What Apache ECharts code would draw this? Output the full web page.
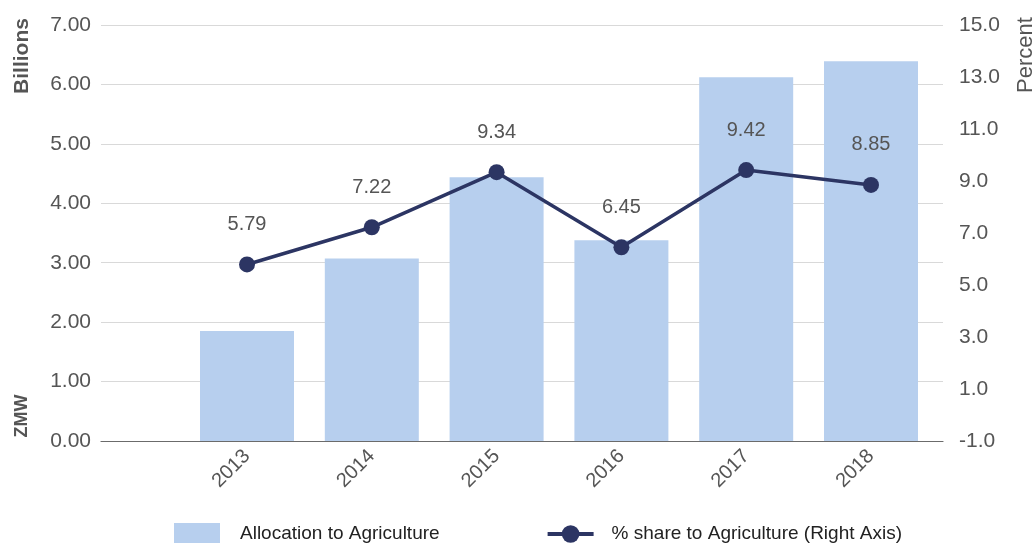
<!DOCTYPE html>
<html><head><meta charset="utf-8">
<script src="https://cdn.jsdelivr.net/npm/echarts@6/dist/echarts.min.js"></script>
<style>html,body{margin:0;padding:0;background:#fff}#c{width:1035px;height:543px}</style>
</head><body><div id="c"></div>
<script>
const years = [2013, 2014, 2015, 2016, 2017, 2018];
const allocation = [1.85, 3.07, 4.44, 3.38, 6.12, 6.39];
const share = [5.79, 7.22, 9.34, 6.45, 9.42, 8.85];
const leftTicks = [0, 1, 2, 3, 4, 5, 6, 7];
const rightTicks = [-1, 1, 3, 5, 7, 9, 11, 13, 15];

const font = 'Liberation Sans, Arial, sans-serif';
const chart = echarts.init(document.getElementById('c'), null, {renderer: 'canvas'});
chart.setOption({
  animation: false,
  grid: {left: 101, right: 92, top: 25, bottom: 102, containLabel: false},
  xAxis: {
    type: 'value', min: 2011.83, max: 2018.577,
    splitLine: {show: false},
    axisTick: {show: false},
    axisLine: {show: true, lineStyle: {color: '#6b6b6b', width: 1.2}},
    axisLabel: {customValues: years, rotate: 45, margin: 12, color: '#555', fontSize: 20, fontFamily: font,
      formatter: v => String(Math.round(v))}
  },
  yAxis: [
    {type: 'value', min: 0, max: 7, interval: 1,
     axisLine: {show: false}, axisTick: {show: false},
     splitLine: {lineStyle: {color: '#d9d9d9', width: 1}},
     axisLabel: {customValues: leftTicks, formatter: v => v.toFixed(2), color: '#555', fontSize: 21, fontFamily: font, margin: 10}},
    {type: 'value', min: -1, max: 15, interval: 2,
     axisLine: {show: false}, axisTick: {show: false}, splitLine: {show: false},
     axisLabel: {customValues: rightTicks, formatter: v => v.toFixed(1), color: '#555', fontSize: 21, fontFamily: font, margin: 16}}
  ],
  legend: {
    left: 169, top: 518, itemWidth: 46, itemHeight: 22, itemGap: 106,
    textStyle: {color: '#222', fontSize: 19, fontFamily: font},
    data: [
      {name: 'Allocation to Agriculture', icon: 'rect', textStyle: {padding: [0, 0, 0, 15]}},
      {name: '% share to Agriculture (Right Axis)', lineStyle: {width: 4, color: '#2c3563'}, textStyle: {padding: [0, 0, 0, 13]}}
    ]
  },
  series: [
    {name: 'Allocation to Agriculture', type: 'bar', barWidth: 94,
     itemStyle: {color: '#b7cfee'},
     data: years.map((y, i) => [y, allocation[i]])},
    {name: '% share to Agriculture (Right Axis)', type: 'line', yAxisIndex: 1,
     symbol: 'circle', symbolSize: 16,
     lineStyle: {color: '#2c3563', width: 3.5},
     itemStyle: {color: '#2c3563'},
     label: {show: true, position: 'top', distance: 22, color: '#555', fontSize: 20, fontFamily: font,
       formatter: p => p.value[1].toFixed(2)},
     data: years.map((y, i) => [y, share[i]])}
  ],
  graphic: [
    {type: 'text', x: 22, y: 56, rotation: Math.PI / 2,
     style: {text: 'Billions', fill: '#555', font: 'bold 21px ' + font, align: 'center', verticalAlign: 'middle'}},
    {type: 'text', x: 22, y: 416, rotation: Math.PI / 2,
     style: {text: 'ZMW', fill: '#555', font: 'bold 18px ' + font, align: 'center', verticalAlign: 'middle'}},
    {type: 'text', x: 1026, y: 55, rotation: Math.PI / 2,
     style: {text: 'Percent', fill: '#555', font: '22px ' + font, align: 'center', verticalAlign: 'middle'}}
  ]
});
</script></body></html>
